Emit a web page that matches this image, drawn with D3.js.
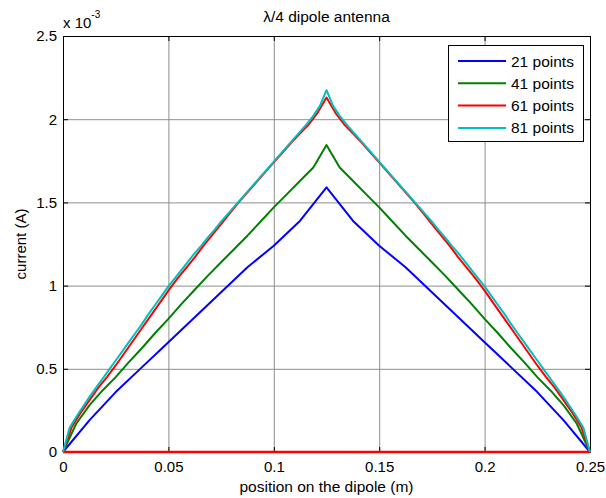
<!DOCTYPE html>
<html>
<head>
<meta charset="utf-8">
<script src="https://cdnjs.cloudflare.com/ajax/libs/d3/7.8.5/d3.min.js"></script>
<style>
  body { margin: 0; background: #fff; }
  text { font-family: "Liberation Sans", Arial, sans-serif; fill: #000; }
  .grid line { stroke: #8e8e8e; stroke-width: 1px; }
  .grid path { display: none; }
  .axis path, .axis line { stroke: #000; }
  .axis text { font-size: 15px; }
</style>
</head>
<body>
<script>

//Chart data (current in units of 10^-3 A)
var xTicks = [0, 0.05, 0.1, 0.15, 0.2, 0.25];
var yTicks = [0, 0.5, 1, 1.5, 2, 2.5];
var seriesNames = ["21 points", "41 points", "61 points", "81 points"];
var seriesColors = ["#0000ff", "#008000", "#ff0000", "#00bfbf"];
var dipoleLength = 0.25;

var points21 = [0, 0.19, 0.36, 0.51, 0.66, 0.81, 0.96, 1.11, 1.24, 1.39, 1.59,
  1.39, 1.24, 1.11, 0.96, 0.81, 0.66, 0.51, 0.36, 0.19, 0];

var points41 = [0, 0.17, 0.28, 0.37, 0.45, 0.54, 0.625, 0.715, 0.80, 0.89, 0.975,
  1.06, 1.14, 1.22, 1.30, 1.385, 1.47, 1.55, 1.63, 1.71, 1.845,
  1.71, 1.63, 1.55, 1.47, 1.385, 1.30, 1.22, 1.14, 1.06, 0.975,
  0.89, 0.80, 0.715, 0.625, 0.54, 0.45, 0.37, 0.28, 0.17, 0];

var points61 = [0, 0.15, 0.235, 0.31, 0.385, 0.45, 0.52, 0.595, 0.67, 0.745, 0.82,
  0.895, 0.97, 1.04, 1.105, 1.17, 1.24, 1.305, 1.37, 1.435, 1.50,
  1.56, 1.62, 1.68, 1.74, 1.80, 1.86, 1.915, 1.97, 2.04, 2.13,
  2.04, 1.97, 1.915, 1.86, 1.80, 1.74, 1.68, 1.62, 1.56, 1.50,
  1.435, 1.37, 1.305, 1.24, 1.17, 1.105, 1.04, 0.97, 0.895, 0.82,
  0.745, 0.67, 0.595, 0.52, 0.45, 0.385, 0.31, 0.235, 0.15, 0];

var points81 = [0, 0.145, 0.21, 0.27, 0.33, 0.385, 0.44, 0.495, 0.55, 0.605,
  0.66, 0.715, 0.77, 0.83, 0.885, 0.94, 0.995, 1.045, 1.095, 1.145,
  1.195, 1.24, 1.29, 1.335, 1.385, 1.43, 1.475, 1.52, 1.565, 1.61,
  1.655, 1.70, 1.745, 1.79, 1.835, 1.88, 1.925, 1.97, 2.02, 2.08, 2.175,
  2.08, 2.02, 1.97, 1.925, 1.88, 1.835, 1.79, 1.745, 1.70, 1.655,
  1.61, 1.565, 1.52, 1.475, 1.43, 1.385, 1.335, 1.29, 1.24, 1.195,
  1.145, 1.095, 1.045, 0.995, 0.94, 0.885, 0.83, 0.77, 0.715, 0.66,
  0.605, 0.55, 0.495, 0.44, 0.385, 0.33, 0.27, 0.21, 0.145, 0];

//the 61 point run also shows a flat line along zero
var zeroLineX = [0, 0.25];
var zeroLineY = [0, 0];

var margin = {left: 63, right: 16, top: 36, bottom: 46},
    width = 606 - margin.left - margin.right,
    height = 498 - margin.top - margin.bottom;

var svg = d3.select("body")
    .append("svg")
    .attr("width", 606)
    .attr("height", 498)
    .append("g")
    .attr("transform", "translate(" + margin.left + "," + margin.top + ")");

var xScale = d3.scaleLinear().domain([0, 0.25]).range([0, width]);
var yScale = d3.scaleLinear().domain([0, 2.5]).range([height, 0]);

//Grid lines
svg.append("g")
    .attr("class", "grid")
    .attr("transform", "translate(0," + height + ")")
    .call(d3.axisBottom(xScale).tickValues(xTicks).tickSize(-height).tickFormat(""));

svg.append("g")
    .attr("class", "grid")
    .call(d3.axisLeft(yScale).tickValues(yTicks).tickSize(-width).tickFormat(""));

//Axes, inward ticks on all four sides
var xAxis = d3.axisBottom(xScale).tickValues(xTicks).tickSize(-5).tickSizeOuter(0).tickPadding(9)
    .tickFormat(function(d) { return d3.format("")(d); });
var yAxis = d3.axisLeft(yScale).tickValues(yTicks).tickSize(-5).tickSizeOuter(0).tickPadding(6)
    .tickFormat(function(d) { return d3.format("")(d); });

svg.append("g")
    .attr("class", "x axis")
    .attr("transform", "translate(0," + height + ")")
    .call(xAxis);

svg.append("g")
    .attr("class", "axis")
    .call(d3.axisTop(xScale).tickValues(xTicks).tickSize(-5).tickSizeOuter(0).tickFormat(""));

svg.append("g")
    .attr("class", "y axis")
    .call(yAxis);

svg.append("g")
    .attr("class", "axis")
    .attr("transform", "translate(" + width + ",0)")
    .call(d3.axisRight(yScale).tickValues(yTicks).tickSize(-5).tickSizeOuter(0).tickFormat(""));

svg.selectAll(".axis text").attr("fill", "#000");

//Lines
var line = d3.line()
    .x(function(d) { return xScale(d[0]); })
    .y(function(d) { return yScale(d[1]); });

function toPairs(values) {
    var n = values.length;
    return values.map(function(v, i) { return [i * dipoleLength / (n - 1), v]; });
}

var allSeries = [points21, points41, points61, points81];

allSeries.forEach(function(values, i) {
    svg.append("path")
        .datum(toPairs(values))
        .attr("fill", "none")
        .attr("stroke", seriesColors[i])
        .attr("stroke-width", 2)
        .attr("stroke-linejoin", "round")
        .attr("d", line);

    if (i == 2) {
        svg.append("path")
            .datum(zeroLineX.map(function(x, j) { return [x, zeroLineY[j]]; }))
            .attr("fill", "none")
            .attr("stroke", seriesColors[2])
            .attr("stroke-width", 2.5)
            .attr("d", line);
    }
});

//Title and labels
svg.append("text")
    .attr("x", width / 2)
    .attr("y", -14)
    .style("text-anchor", "middle")
    .attr("font-size", "15.5px")
    .text("\u03bb/4 dipole antenna");

svg.append("text")
    .attr("x", width / 2)
    .attr("y", height + 40)
    .style("text-anchor", "middle")
    .attr("font-size", "15.5px")
    .text("position on the dipole (m)");

svg.append("text")
    .attr("transform", "rotate(-90)")
    .attr("x", -height / 2)
    .attr("y", -37)
    .style("text-anchor", "middle")
    .attr("font-size", "15px")
    .text("current (A)");

var expo = svg.append("text")
    .attr("x", 0)
    .attr("y", -8)
    .attr("font-size", "15px");
expo.append("tspan").text("x 10");
expo.append("tspan").attr("dy", -10).attr("font-size", "10px").text("-3");

//Legend
var legend = svg.append("g")
    .attr("transform", "translate(" + (width - 142) + ",9)");

legend.append("rect")
    .attr("x", 0.5)
    .attr("y", 0.5)
    .attr("width", 135)
    .attr("height", 96)
    .attr("fill", "#fff")
    .attr("stroke", "#000")
    .attr("stroke-width", 1);

seriesNames.forEach(function(name, i) {
    var yPos = 16 + i * 22.3;
    legend.append("line")
        .attr("x1", 10).attr("x2", 58)
        .attr("y1", yPos).attr("y2", yPos)
        .attr("stroke", seriesColors[i])
        .attr("stroke-width", 2);
    legend.append("text")
        .attr("x", 63)
        .attr("y", yPos + 5.5)
        .attr("font-size", "15.5px")
        .text(name);
});

</script>
</body>
</html>
